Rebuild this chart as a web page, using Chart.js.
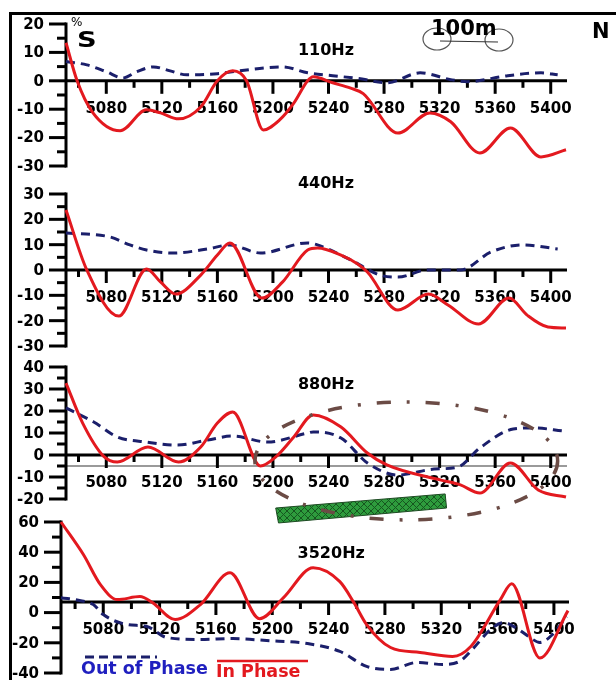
<!DOCTYPE html>
<html>
<head>
<meta charset="utf-8">
<script src="https://cdn.jsdelivr.net/npm/chart.js@4.4.1/dist/chart.umd.min.js"></script>
<style>
  html, body { margin: 0; padding: 0; background: #fff; }
  #page { position: relative; width: 616px; height: 680px; overflow: hidden; font-family: "DejaVu Sans", sans-serif; font-weight: bold; }
  #page canvas { position: absolute; left: 0; top: 0; }
  .frame { position: absolute; left: 9px; top: 12px; width: 700px; height: 700px; border-left: 3px solid #000; border-top: 3px solid #000; }
  .txt { position: absolute; line-height: 1; white-space: nowrap; }
</style>
</head>
<body>
<div id="page">
  <div class="frame"></div>
  <canvas id="c110" width="616" height="680"></canvas>
  <canvas id="c440" width="616" height="680"></canvas>
  <canvas id="c880" width="616" height="680"></canvas>
  <canvas id="c3520" width="616" height="680"></canvas>

  <div class="txt" style="left:71px;top:15.6px;font-size:12px;font-weight:normal">%</div>
  <div class="txt" style="left:76.5px;top:29.5px;font-size:21px;transform:scaleX(1.3);transform-origin:left top">S</div>
  <div class="txt" style="left:592px;top:20.5px;font-size:21px">N</div>

  <svg style="position:absolute;left:0;top:0" width="616" height="80">
    <ellipse cx="437" cy="39" rx="14" ry="11" fill="none" stroke="#555" stroke-width="1.2"/>
    <ellipse cx="499" cy="40" rx="14" ry="11" fill="none" stroke="#555" stroke-width="1.2"/>
    <line x1="440" y1="41" x2="498" y2="42" stroke="#333" stroke-width="1.2"/>
  </svg>
  <div class="txt" style="left:431px;top:17.5px;font-size:21px">100m</div>

  <svg style="position:absolute;left:0;top:640px" width="330" height="30">
    <line x1="85" y1="17" x2="157" y2="17" stroke="#1b1f6b" stroke-width="3" stroke-dasharray="9 5"/>
    <line x1="217" y1="21" x2="308" y2="21" stroke="#e3191f" stroke-width="2.5"/>
  </svg>
  <div class="txt" style="left:81px;top:660px;font-size:17.5px;color:#1f1fbf">Out of Phase</div>
  <div class="txt" style="left:216px;top:663px;font-size:17.5px;color:#e3191f">In Phase</div>
</div>

<script>
const RED = '#e3191f';
const NAVY = '#1b1f6b';

// profile position ticks
const xMinorTicks = [5060, 5100, 5140, 5180, 5220, 5260, 5300, 5340, 5380];
const xTickLabels = [5080, 5120, 5160, 5200, 5240, 5280, 5320, 5360, 5400];

// 110Hz
const yTicks110 = [20, 10, 0, -10, -20, -30];
const red110X = [5051, 5059, 5070, 5090, 5109, 5119, 5132, 5148, 5160, 5171, 5181, 5193, 5205, 5215, 5225, 5229, 5243, 5256, 5265, 5290, 5313, 5328, 5349, 5371, 5393, 5411];
const red110Y = [13.4, 0, -11, -17.6, -10.2, -11.3, -13.4, -9.2, 0, 3.5, 0, -17.3, -13.7, -7.9, 0, 1.4, -0.7, -2.6, -4.5, -18.4, -11.3, -14.4, -25.4, -16.6, -26.8, -24.3];
const blue110X = [5051, 5066, 5080, 5092, 5102, 5114, 5126, 5138, 5160, 5176, 5207, 5225, 5243, 5263, 5282, 5306, 5328, 5340, 5369, 5393, 5405];
const blue110Y = [6.8, 5.6, 3.2, 1.0, 3.2, 4.9, 3.5, 2.1, 2.5, 3.5, 4.9, 2.8, 1.8, 0.7, -0.7, 2.8, 0.4, -0.3, 1.8, 2.8, 2.1];

// 440Hz
const yTicks440 = [30, 20, 10, 0, -10, -20, -30];
const red440X = [5051, 5066, 5089, 5109, 5119, 5130, 5148, 5160, 5169, 5192, 5207, 5225, 5232, 5249, 5261, 5268, 5290, 5312, 5326, 5348, 5370, 5383, 5398, 5411];
const red440Y = [23.7, 0, -18.2, 0.4, -4.7, -9.5, -2, 5.9, 10.7, -11.1, -4.7, 7.9, 8.7, 5.9, 2.4, -0.8, -15.8, -9.5, -13.8, -21.3, -11.1, -17.8, -22.5, -22.9];
const blue440X = [5051, 5083, 5097, 5109, 5128, 5153, 5169, 5191, 5225, 5232, 5256, 5277, 5290, 5311, 5335, 5357, 5380, 5405];
const blue440Y = [14.6, 13, 9.9, 7.9, 6.7, 8.3, 9.9, 6.7, 10.7, 9.9, 4, -2, -2.8, 0, 0, 7.1, 9.9, 8.3];

// 880Hz
const yTicks880 = [40, 30, 20, 10, 0, -10, -20];
const red880X = [5051, 5063, 5078, 5088, 5110, 5132, 5148, 5160, 5171, 5191, 5202, 5215, 5229, 5249, 5268, 5282, 5321, 5335, 5349, 5371, 5391, 5411];
const red880Y = [32.7, 14.5, -0.5, -3.2, 3.6, -3.2, 3.6, 14.5, 19.5, -5, -0.9, 8.2, 18.2, 12.7, 0.9, -4.5, -11.4, -13.6, -17.3, -3.6, -15.9, -19.1];
const blue880X = [5051, 5071, 5088, 5109, 5131, 5153, 5171, 5196, 5225, 5229, 5249, 5268, 5290, 5316, 5333, 5349, 5373, 5388, 5409];
const blue880Y = [21.4, 15, 8.2, 5.9, 4.5, 6.8, 8.6, 5.9, 10, 10.5, 7.7, -3.6, -9.1, -6.4, -5.5, 3.2, 11.8, 12.3, 10.9];
const ref880 = -5;
// outlined anomaly and body, in profile / percent units
const anomalyEllipse = [5296, -2.7, 109, 26.8]; // centre x, centre y, half width, half height
const bodyX = [5202, 5324, 5325, 5204];
const bodyY = [-24.1, -17.7, -24.1, -30.9];

// 3520Hz
const yTicks3520 = [60, 40, 20, 0, -20, -40];
const red3520X = [5050, 5066, 5078, 5090, 5106, 5115, 5131, 5149, 5170, 5191, 5208, 5229, 5248, 5258, 5267, 5284, 5305, 5328, 5341, 5362, 5370, 5390, 5410];
const red3520Y = [60, 38.3, 18.5, 8.6, 10.6, 6.6, -4.6, 5.3, 26.4, -4, 9.9, 29.7, 20.5, 6.6, -7.9, -23.1, -26.4, -29, -22.4, 8.6, 19.1, -30, 1.3];
const blue3520X = [5050, 5064, 5073, 5080, 5097, 5111, 5125, 5149, 5172, 5196, 5225, 5248, 5267, 5284, 5303, 5321, 5333, 5342, 5355, 5364, 5374, 5382, 5390, 5399, 5409];
const blue3520Y = [9.9, 7.9, 5.3, -1.3, -7.9, -9.2, -16.5, -17.8, -17.2, -18.5, -20.5, -25.7, -35.6, -37.6, -33, -34.3, -32.3, -24.4, -11.2, -6.6, -10.6, -15.8, -19.8, -14.5, -2.6];

const TICK_FONT = 'bold 15px "DejaVu Sans"';
const TITLE_FONT = 'bold 16px "DejaVu Sans"';

function pts(xs, ys) {
    return xs.map((x, i) => ({ x: x, y: ys[i] }));
}

function line(ctx, x1, y1, x2, y2) {
    ctx.beginPath();
    ctx.moveTo(x1, y1);
    ctx.lineTo(x2, y2);
    ctx.stroke();
}

function axesPlugin(p) {
    return {
        id: 'panelAxes',
        beforeDatasetsDraw(chart) {
            const ctx = chart.ctx;
            const xs = chart.scales.x, ys = chart.scales.y;
            const ca = chart.chartArea;
            const y0 = ys.getPixelForValue(p.axisAt);
            ctx.save();

            if (p.refLine !== undefined) {
                const yr = ys.getPixelForValue(p.refLine);
                ctx.strokeStyle = '#9a9a9a';
                ctx.lineWidth = 2;
                line(ctx, ca.left, yr, ca.right + 1, yr);
            }

            ctx.strokeStyle = '#000';
            ctx.fillStyle = '#000';
            ctx.lineWidth = 3;
            ctx.font = TICK_FONT;

            // vertical axis
            const n = p.yTicks.length;
            const step = p.yTicks[0] - p.yTicks[1];
            line(ctx, ca.left, ys.getPixelForValue(p.yTicks[0]) - 1.5, ca.left, ys.getPixelForValue(p.yTicks[n - 1]) + 1.5);
            ctx.textAlign = 'right';
            ctx.textBaseline = 'middle';
            p.yTicks.forEach((v, i) => {
                const py = ys.getPixelForValue(v);
                line(ctx, ca.left - 17, py, ca.left, py);
                ctx.fillText(String(v), ca.left - 22, py + 1);
                if (i < n - 1) {
                    const pm = ys.getPixelForValue(v - step / 2);
                    line(ctx, ca.left - 9, pm, ca.left, pm);
                }
            });

            // horizontal axis
            line(ctx, ca.left, y0, ca.right + 1, y0);
            xMinorTicks.forEach(v => {
                const px = xs.getPixelForValue(v);
                line(ctx, px, y0, px, y0 + 7);
            });
            ctx.textAlign = 'center';
            xTickLabels.forEach(v => {
                const px = xs.getPixelForValue(v);
                line(ctx, px, y0, px, y0 + 13);
                ctx.fillText(String(v), px, y0 + 28);
            });

            // frequency title
            ctx.font = TITLE_FONT;
            ctx.textAlign = 'left';
            ctx.textBaseline = 'alphabetic';
            ctx.fillText(p.title, xs.getPixelForValue(5218), ys.getPixelForValue(p.titleY));
            ctx.restore();
        }
    };
}

function hatchPattern(ctx) {
    const c = document.createElement('canvas');
    c.width = 7; c.height = 7;
    const g = c.getContext('2d');
    g.fillStyle = '#2e9c3d';
    g.fillRect(0, 0, 7, 7);
    g.strokeStyle = '#16561f';
    g.lineWidth = 1;
    g.beginPath();
    g.moveTo(0, 0); g.lineTo(7, 7);
    g.moveTo(7, 0); g.lineTo(0, 7);
    g.stroke();
    return ctx.createPattern(c, 'repeat');
}

const anomalyPlugin = {
    id: 'anomaly',
    afterDatasetsDraw(chart) {
        const ctx = chart.ctx;
        const xs = chart.scales.x, ys = chart.scales.y;
        ctx.save();
        // hatched body
        ctx.beginPath();
        bodyX.forEach((x, i) => {
            const px = xs.getPixelForValue(x), py = ys.getPixelForValue(bodyY[i]);
            if (i === 0) ctx.moveTo(px, py); else ctx.lineTo(px, py);
        });
        ctx.closePath();
        ctx.fillStyle = hatchPattern(ctx);
        ctx.fill();
        ctx.strokeStyle = '#1d4a22';
        ctx.lineWidth = 1;
        ctx.stroke();

        // dash-dot outline
        const cx = xs.getPixelForValue(anomalyEllipse[0]);
        const cy = ys.getPixelForValue(anomalyEllipse[1]);
        const rx = xs.getPixelForValue(anomalyEllipse[0] + anomalyEllipse[2]) - cx;
        const ry = ys.getPixelForValue(anomalyEllipse[1] - anomalyEllipse[3]) - cy;
        ctx.beginPath();
        ctx.ellipse(cx, cy, rx, ry, 0, 0, Math.PI * 2);
        ctx.strokeStyle = '#6b4b45';
        ctx.lineWidth = 3.5;
        ctx.setLineDash([14, 16, 3, 16]);
        ctx.stroke();
        ctx.restore();
    }
};

const panels = [
    { id: 'c110', title: '110Hz', titleY: 9.2, yTicks: yTicks110, axisAt: 0,
      redX: red110X, redY: red110Y, blueX: blue110X, blueY: blue110Y,
      xRange: [5051, 5411], area: { left: 66, right: 50, top: 24, bottom: 514 } },
    { id: 'c440', title: '440Hz', titleY: 32.4, yTicks: yTicks440, axisAt: 0,
      redX: red440X, redY: red440Y, blueX: blue440X, blueY: blue440Y,
      xRange: [5051, 5411], area: { left: 66, right: 50, top: 194, bottom: 334 } },
    { id: 'c880', title: '880Hz', titleY: 30, yTicks: yTicks880, axisAt: 0, refLine: ref880,
      redX: red880X, redY: red880Y, blueX: blue880X, blueY: blue880Y,
      xRange: [5051, 5411], area: { left: 66, right: 50, top: 367, bottom: 181 }, extra: anomalyPlugin },
    { id: 'c3520', title: '3520Hz', titleY: 36.3, yTicks: yTicks3520, axisAt: 7,
      redX: red3520X, redY: red3520Y, blueX: blue3520X, blueY: blue3520Y,
      xRange: [5050, 5410], area: { left: 61, right: 48, top: 522, bottom: 7 } }
];

panels.forEach(p => {
    const plugins = [axesPlugin(p)];
    if (p.extra) plugins.push(p.extra);
    new Chart(document.getElementById(p.id), {
        type: 'line',
        data: {
            datasets: [
                { label: 'In Phase', data: pts(p.redX, p.redY), borderColor: RED, borderWidth: 3,
                  pointRadius: 0, cubicInterpolationMode: 'monotone', fill: false, clip: false },
                { label: 'Out of Phase', data: pts(p.blueX, p.blueY), borderColor: NAVY, borderWidth: 3,
                  borderDash: [9, 6], pointRadius: 0, cubicInterpolationMode: 'monotone', fill: false, clip: false }
            ]
        },
        options: {
            responsive: false,
            animation: false,
            events: [],
            layout: { padding: p.area },
            plugins: { legend: { display: false }, tooltip: { enabled: false } },
            scales: {
                x: { type: 'linear', min: p.xRange[0], max: p.xRange[1], display: false },
                y: { min: p.yTicks[p.yTicks.length - 1], max: p.yTicks[0], display: false }
            }
        },
        plugins: plugins
    });
});
</script>
</body>
</html>
